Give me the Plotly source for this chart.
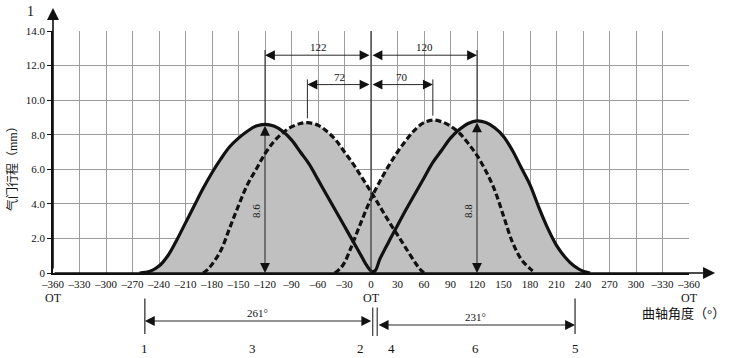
import plotly.graph_objects as go

# ---------------- data ----------------
# solid curve, left event
sl_deg  = [-262, -250, -240, -230, -220, -210, -200, -190, -180, -170, -160, -150, -140, -130, -120,
           -110, -100, -90, -80, -70, -60, -50, -40, -30, -20, -10, -5, 0, 5]
sl_lift = [0, 0.1, 0.4, 1.0, 1.9, 2.9, 3.9, 4.9, 5.8, 6.6, 7.3, 7.8, 8.2, 8.5, 8.6,
           8.5, 8.2, 7.7, 7.0, 6.3, 5.4, 4.5, 3.6, 2.7, 1.8, 0.9, 0.45, 0.12, 0]
# dashed curve, left event
dl_deg  = [-190, -185, -180, -170, -160, -150, -140, -130, -120, -110, -100, -90, -80, -72,
           -60, -50, -40, -30, -20, -10, 0, 10, 20, 30, 40, 50, 55, 60]
dl_lift = [0, 0.2, 0.5, 1.3, 2.6, 3.9, 5.1, 6.0, 6.9, 7.6, 8.1, 8.45, 8.65, 8.7,
           8.55, 8.2, 7.7, 7.0, 6.3, 5.5, 4.7, 3.85, 3.0, 2.2, 1.4, 0.6, 0.25, 0]
# dashed curve, right event
dr_deg  = [-41, -35, -30, -24, -20, -10, 0, 10, 20, 30, 40, 50, 60, 70,
           80, 90, 100, 110, 120, 130, 140, 150, 160, 170, 180, 186]
dr_lift = [0, 0.25, 0.6, 1.3, 1.8, 3.1, 4.3, 5.3, 6.2, 7.0, 7.7, 8.3, 8.7, 8.85,
           8.75, 8.5, 8.1, 7.5, 6.8, 5.9, 4.8, 3.3, 1.8, 0.8, 0.25, 0]
# solid curve, right event
sr_deg  = [0, 5, 10, 20, 30, 40, 50, 60, 70, 80, 90, 100, 110, 120,
           130, 140, 150, 160, 170, 180, 190, 200, 210, 220, 230, 240, 248]
sr_lift = [0, 0.15, 0.8, 1.8, 2.75, 3.7, 4.6, 5.5, 6.4, 7.1, 7.8, 8.3, 8.65, 8.8,
           8.7, 8.4, 7.9, 7.1, 6.1, 5.1, 3.8, 2.6, 1.6, 0.9, 0.4, 0.1, 0]

# peaks (deg, lift) and dimension values
solid_peak_deg = [-120, 120]
solid_peak_lift = [8.6, 8.8]
dashed_peak_deg = [-72, 70]
dashed_peak_lift = [8.7, 8.85]
span_labels_outer = ["122", "120"]
span_labels_inner = ["72", "70"]
outer_dim_y = 12.6
inner_dim_y = 10.9

# events below the axis
event_deg = [-256, 2, 7, 231]          # 1, 2, 4, 5
event_num = ["1", "3", "2", "4", "6", "5"]
event_num_deg = [-256, -134, -12, 23, 118, 231]
duration_labels = ["261°", "231°"]

x_tickvals = list(range(-360, 361, 30))
x_ticktext = ["–360", "–330", "–300", "–270", "–240", "–210", "–180", "–150", "–120", "–90", "–60", "–30",
              "0", "30", "60", "90", "120", "150", "180", "210", "240", "270", "300", "–330", "–360"]
y_tickvals = [0, 2, 4, 6, 8, 10, 12, 14]
y_ticktext = ["0", "2.0", "4.0", "6.0", "8.0", "10.0", "12.0", "14.0"]

SERIF = "Liberation Serif, Noto Sans CJK SC"
FILL = "#c0c0c0"
BLACK = "#111111"

fig = go.Figure()
curves = [(sl_deg, sl_lift, "solid"), (dl_deg, dl_lift, "6px,3px"),
          (dr_deg, dr_lift, "6px,3px"), (sr_deg, sr_lift, "solid")]
for xs, ys, _ in curves:
    fig.add_trace(go.Scatter(x=xs, y=ys, mode="lines", fill="tozeroy", fillcolor=FILL,
                             line=dict(width=0, shape="spline", smoothing=1.0),
                             hoverinfo="skip", showlegend=False))
for xs, ys, dash in curves:
    fig.add_trace(go.Scatter(x=xs, y=ys, mode="lines",
                             line=dict(width=3.2, color=BLACK, dash=dash, shape="spline", smoothing=1.0),
                             showlegend=False))

shapes = []
ann = []


def txt(x, y, text, xref="x", yref="y", size=11, angle=0, xanchor="center"):
    return dict(x=x, y=y, xref=xref, yref=yref, text=text, showarrow=False, textangle=angle,
                xanchor=xanchor, yanchor="middle", font=dict(family=SERIF, size=size, color=BLACK))


# OT line at 0
shapes.append(dict(type="line", xref="x", yref="y", x0=0, x1=0, y0=0, y1=14,
                   line=dict(color="#333333", width=1.2)))

ah = dict(arrowhead=2, arrowsize=2.2, arrowwidth=0.9, arrowcolor=BLACK,
          startarrowhead=2, startarrowsize=2.2, arrowside="end+start")

# vertical lift arrows + extension lines at solid peaks
for d, l in zip(solid_peak_deg, solid_peak_lift):
    ann.append(dict(x=d, y=0, xref="x", yref="y", ax=d, ay=l, axref="x", ayref="y",
                    text="", showarrow=True, **ah))
    shapes.append(dict(type="line", xref="x", yref="y", x0=d, x1=d, y0=l, y1=outer_dim_y + 0.3,
                       line=dict(color=BLACK, width=0.9)))
    ann.append(txt(d - 10, 3.6, f"{l}", angle=-90))
# extension lines at dashed peaks
for d, l in zip(dashed_peak_deg, dashed_peak_lift):
    shapes.append(dict(type="line", xref="x", yref="y", x0=d, x1=d, y0=l + 0.25, y1=inner_dim_y + 0.3,
                       line=dict(color=BLACK, width=0.9)))
# horizontal dimension arrows
for d, t in zip(solid_peak_deg, span_labels_outer):
    ann.append(dict(x=d, y=outer_dim_y, xref="x", yref="y", ax=0, ay=outer_dim_y, axref="x", ayref="y",
                    text="", showarrow=True, **ah))
    ann.append(txt(d / 2, outer_dim_y + 0.45, t))
for d, t in zip(dashed_peak_deg, span_labels_inner):
    ann.append(dict(x=d, y=inner_dim_y, xref="x", yref="y", ax=0, ay=inner_dim_y, axref="x", ayref="y",
                    text="", showarrow=True, **ah))
    ann.append(txt(d / 2, inner_dim_y + 0.45, t))

# axis arrows
ann.append(dict(x=-360, y=1.095, xref="x", yref="paper", ax=0, ay=262, text="", showarrow=True,
                arrowhead=2, arrowsize=1.5, arrowwidth=1.6, arrowcolor=BLACK))
ann.append(dict(x=1.041, y=0, xref="paper", yref="y", ax=-662, ay=0, text="", showarrow=True,
                arrowhead=2, arrowsize=1.5, arrowwidth=1.6, arrowcolor=BLACK))


def px(p):
    return (p - 53) / 636.0


def py(p):
    return (273 - p) / 242.0


ann.append(txt(px(30), py(11), "1", xref="paper", yref="paper", size=14))

# below-axis event markers
for d in [event_deg[0], event_deg[3]]:
    ann.append(dict(x=d, y=py(334), xref="x", yref="paper", ax=0, ay=-37, text="", showarrow=True,
                    arrowhead=0, arrowwidth=1.1, arrowcolor=BLACK))
for d in [event_deg[1], event_deg[2]]:
    ann.append(dict(x=d, y=py(336), xref="x", yref="paper", ax=0, ay=-30, text="", showarrow=True,
                    arrowhead=0, arrowwidth=1.0, arrowcolor=BLACK))
ann.append(dict(x=event_deg[0], y=py(321), xref="x", yref="paper", ax=event_deg[1], ay=0,
                axref="x", ayref="pixel", text="", showarrow=True, **ah))
ann.append(dict(x=event_deg[3], y=py(325), xref="x", yref="paper", ax=event_deg[2], ay=0,
                axref="x", ayref="pixel", text="", showarrow=True, **ah))
ann.append(txt(-129, py(313), duration_labels[0], yref="paper"))
ann.append(txt(118, py(317), duration_labels[1], yref="paper"))
for d, t in zip(event_num_deg, event_num):
    ann.append(txt(d, py(348), t, yref="paper", size=13))
for d in [-360, 0, 360]:
    ann.append(txt(d, py(298), "OT", yref="paper", size=12))
ann.append(txt(px(727), py(313), "曲轴角度（°）", xref="paper", yref="paper", size=13, xanchor="right"))
ann.append(txt(px(12), py(166), "气门行程（mm）", xref="paper", yref="paper", size=12, angle=-90))

fig.update_layout(
    width=729, height=358,
    margin=dict(l=53, r=40, t=31, b=85),
    paper_bgcolor="white", plot_bgcolor="white",
    font=dict(family=SERIF, size=11, color=BLACK),
    shapes=shapes, annotations=ann,
    xaxis=dict(range=[-360, 360], tickvals=x_tickvals, ticktext=x_ticktext,
               showgrid=True, gridcolor="#9c9c9c", gridwidth=1, zeroline=False,
               showline=True, linecolor=BLACK, linewidth=1.5, ticks="", automargin=False,
               tickfont=dict(family=SERIF, size=11, color=BLACK)),
    yaxis=dict(range=[0, 14], tickvals=y_tickvals, ticktext=y_ticktext,
               showgrid=True, gridcolor="#9c9c9c", gridwidth=1, zeroline=False,
               showline=True, linecolor=BLACK, linewidth=1.5, ticks="outside", ticklen=4,
               automargin=False, tickcolor=BLACK, tickfont=dict(family=SERIF, size=11, color=BLACK)),
)

fig.write_html("out.html", config={"displayModeBar": False},
               post_script="document.body.style.margin='0px';document.body.style.padding='0px';")
